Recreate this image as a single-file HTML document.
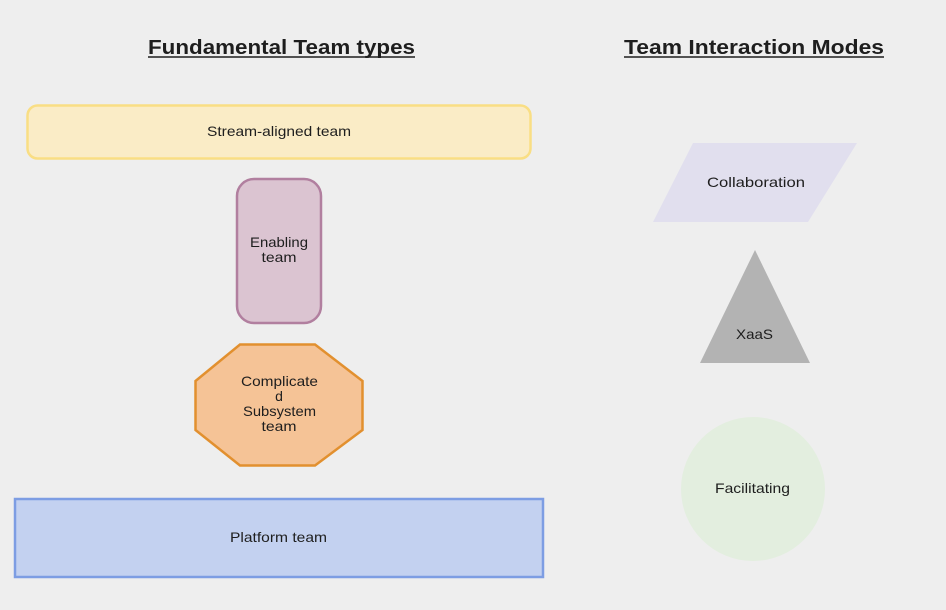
<!DOCTYPE html>
<html><head><meta charset="utf-8"><style>
html,body{margin:0;padding:0;background:#eeeeee;}
svg{display:block;font-family:"Liberation Sans",sans-serif;}
</style></head><body>
<svg width="946" height="610" viewBox="0 0 946 610" xmlns="http://www.w3.org/2000/svg">
<rect width="946" height="610" fill="#eeeeee"/>
<g font-weight="bold" font-size="20" fill="#1e1e1e" text-anchor="middle">
<text x="281.5" y="54" textLength="267" lengthAdjust="spacingAndGlyphs">Fundamental Team types</text>
<text x="754" y="54" textLength="260" lengthAdjust="spacingAndGlyphs">Team Interaction Modes</text>
</g>
<line x1="148" y1="57" x2="415" y2="57" stroke="#1e1e1e" stroke-width="1.6"/>
<line x1="624" y1="57" x2="884" y2="57" stroke="#1e1e1e" stroke-width="1.6"/>
<rect x="27.5" y="105.5" width="503" height="53" rx="10" fill="#faecc6" stroke="#f9de84" stroke-width="2.5"/>
<rect x="237" y="179" width="84" height="144" rx="17" fill="#dbc4d1" stroke="#b17f9f" stroke-width="2.5"/>
<polygon points="240,344.5 315,344.5 362.5,381 362.5,430 315,465.5 240,465.5 195.5,430 195.5,381" fill="#f5c396" stroke="#e2902f" stroke-width="2.5"/>
<rect x="15" y="499" width="528" height="78" fill="#c3d1f0" stroke="#7d9de3" stroke-width="2.5"/>
<polygon points="693,143 857,143 808,222 653,222" fill="#e1dfee"/>
<polygon points="755,250 810,363 700,363" fill="#b3b3b3"/>
<circle cx="753" cy="489" r="72" fill="#e3eedf"/>
<g font-size="14" fill="#1e1e1e" text-anchor="middle">
<text x="279" y="136" textLength="144" lengthAdjust="spacingAndGlyphs">Stream-aligned team</text>
<text x="279" y="247" textLength="58" lengthAdjust="spacingAndGlyphs">Enabling</text>
<text x="279" y="262" textLength="35" lengthAdjust="spacingAndGlyphs">team</text>
<text x="279.5" y="386" textLength="77" lengthAdjust="spacingAndGlyphs">Complicate</text>
<text x="279" y="401">d</text>
<text x="279.5" y="416" textLength="73" lengthAdjust="spacingAndGlyphs">Subsystem</text>
<text x="279" y="431" textLength="35" lengthAdjust="spacingAndGlyphs">team</text>
<text x="278.5" y="542" textLength="97" lengthAdjust="spacingAndGlyphs">Platform team</text>
<text x="756" y="187" textLength="98" lengthAdjust="spacingAndGlyphs">Collaboration</text>
<text x="754.5" y="339" textLength="37" lengthAdjust="spacingAndGlyphs">XaaS</text>
<text x="752.5" y="493" textLength="75" lengthAdjust="spacingAndGlyphs">Facilitating</text>
</g>
</svg>
</body></html>
